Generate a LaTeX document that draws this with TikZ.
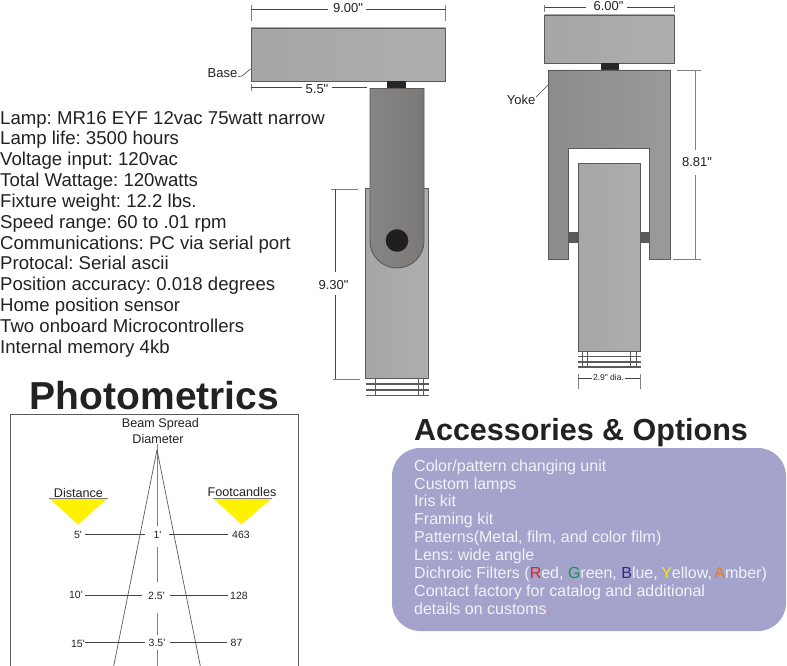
\documentclass[tikz,border=0pt]{standalone}
\usepackage{fontspec}
\setmainfont{Liberation Sans}[Ligatures=TeXOff]
\frenchspacing
\definecolor{ink}{HTML}{222222}
\definecolor{edge}{HTML}{5A5A5A}
\definecolor{dimc}{HTML}{444444}
\definecolor{panel}{HTML}{A3A3CC}
\definecolor{panelt}{HTML}{F2F2F8}
\definecolor{bodyl}{HTML}{A6A6A6}
\definecolor{bodyr}{HTML}{AEAEAE}
\definecolor{armd}{HTML}{7C7878}
\definecolor{arml}{HTML}{868484}
\definecolor{yokel}{HTML}{8C8C8C}
\definecolor{yoker}{HTML}{9A9A9A}
\newcommand{\fsz}[1]{\fontsize{#1}{#1}\selectfont}
\tikzset{
  x=1pt,y=-1pt,
  txt/.style={inner sep=0pt,text=ink,font=\fsz{13}},
  spec/.style={inner sep=0pt,anchor=base west,text=ink,font=\fsz{18.6}},
  opt/.style={inner sep=0pt,anchor=base west,text=panelt,font=\fsz{16}},
  row/.style={inner sep=0pt,text=ink,font=\fsz{10.5}},
  head/.style={inner sep=0pt,text=ink,font=\fsz{12.6}},
  housing/.style={draw=edge,line width=0.9pt,left color=bodyl,right color=bodyr},
  dimline/.style={draw=dimc,line width=0.6pt},
  dimtick/.style={draw=gray,line width=0.8pt},
  dimlong/.style={draw=gray,line width=0.8pt},
  bar/.style={draw=edge,line width=1.1pt},
  thin/.style={draw=edge,line width=0.7pt},
  beam/.style={draw=edge,line width=0.7pt},
  axis/.style={draw=gray,line width=1pt},
  rowline/.style={draw=dimc,line width=0.7pt},
  tri/.style={fill=yellow,draw=none}
}
\begin{document}
\begin{tikzpicture}
\useasboundingbox (0,0) rectangle (787,666);
\fill[white] (0,0) rectangle (787,666);

% --- left view: lower body
\draw[housing] (365.5,188) rectangle (428.5,378);
\foreach \yy in {384,390,395.7}{\draw[bar] (365.5,\yy) -- (428.5,\yy);}
\foreach \xx in {375.7,418.3,423}{\draw[thin] (\xx,378) -- (\xx,395.7);}
% base
\draw[housing] (251,28) rectangle (445.5,81.5);
\fill[black!85] (387,81.5) rectangle (406,88.5);
% yoke
\draw[draw=edge,line width=0.9pt,left color=arml,right color=armd]
  (370,88.5) -- (424,88.5) -- (424,241) arc[start angle=0,end angle=180,radius=27] -- cycle;
\fill[black!88] (397,240.5) circle[radius=11.3];

% left view dimensions
\draw[dimtick] (251,5) -- (251,21);
\draw[dimtick] (445.5,5) -- (445.5,21);
\draw[dimline] (251,9.5) -- (328,9.5);
\draw[dimline] (366,9.5) -- (445.5,9.5);
\node[txt] (w9) at (348,8) {9.00"};
\draw[dimtick] (251,84) -- (251,91);
\draw[dimline] (251,87) -- (302,87);
\draw[dimline] (332,87) -- (367,87);
\node[txt] (d55) at (317,89) {5.5"};
\node[txt] (baselbl) at (222.5,73) {Base};
\draw[dimline] (238,76.7) -- (242,76) -- (250.5,69);
\draw[dimtick] (331,189) -- (358,189);
\draw[dimtick] (333,379) -- (360,379);
\draw[dimline] (335,189) -- (335,272);
\draw[dimline] (335,295) -- (335,379);
\node[txt] (h93) at (333.5,285) {9.30"};

% --- right view
\draw[housing] (544.5,15) rectangle (674,63);
\fill[black!85] (600.5,63) rectangle (619,70);
\draw[draw=edge,line width=0.9pt,left color=yokel,right color=yoker]
  (548,70) -- (670,70) -- (670,259) -- (649.5,259) -- (649.5,148) -- (568.5,148) -- (568.5,259) -- (548,259) -- cycle;
\fill[black!65] (568.5,231.7) rectangle (578,243.3);
\fill[black!65] (640.5,231.7) rectangle (649.5,243.3);
\draw[housing] (578,163) rectangle (640.5,351.5);
\foreach \yy in {356.5,362,367}{\draw[bar] (578,\yy) -- (640.5,\yy);}
\foreach \xx in {582.7,587.3,630.7,636}{\draw[thin] (\xx,351.5) -- (\xx,367);}
\draw[dimtick] (544.5,5) -- (544.5,12);
\draw[dimtick] (674,5) -- (674,12);
\draw[dimline] (544.5,7.5) -- (586,7.5);
\draw[dimline] (627,7.5) -- (674,7.5);
\node[txt] (w6) at (608.5,5.8) {6.00"};
\draw[dimtick] (677,70) -- (701,70);
\draw[dimtick] (673,259) -- (701,259);
\draw[dimlong] (695,70) -- (695,150);
\draw[dimlong] (695,175) -- (695,259);
\node[txt] (h88) at (697,162) {8.81"};
\node[txt] (yokelbl) at (521,100) {Yoke};
\draw[dimline] (536,97) -- (548,85);
\draw[dimtick] (578,374) -- (578,389);
\draw[dimtick] (640,374) -- (640,389);
\draw[dimline] (578,378) -- (592,378);
\draw[dimline] (625,378) -- (640,378);
\node[txt,font=\fsz{8.5}] (d29) at (608.5,377.5) {2.9" dia.};

% --- specification list
\node[spec] (s1) at (0,124.7) {Lamp: MR16 EYF 12vac 75watt narrow};
\node[spec] (s2) at (0,144.7) {Lamp life: 3500 hours};
\node[spec] (s3) at (0,165.2) {Voltage input: 120vac};
\node[spec] (s4) at (0,186.2) {Total Wattage: 120watts};
\node[spec] (s5) at (0,207.2) {Fixture weight: 12.2 lbs.};
\node[spec] (s6) at (0,228.2) {Speed range: 60 to .01 rpm};
\node[spec] (s7) at (0,249.2) {Communications: PC via serial port};
\node[spec] (s8) at (0,269.2) {Protocal: Serial ascii};
\node[spec] (s9) at (0,290.2) {Position accuracy: 0.018 degrees};
\node[spec] (s10) at (0,311.2) {Home position sensor};
\node[spec] (s11) at (0,332.2) {Two onboard Microcontrollers};
\node[spec] (s12) at (0,353.2) {Internal memory 4kb};

% --- photometrics
\node[inner sep=0pt,text=ink,font=\bfseries\fsz{39}] (photo) at (154.5,396) {Photometrics};
\draw[draw=edge,line width=0.8pt] (10.5,667) -- (10.5,414.5) -- (298.5,414.5) -- (298.5,667);
\node[head] (bs1) at (160.5,424) {Beam Spread};
\node[head] (bs2) at (158,438.5) {Diameter};
\draw[axis] (157,444) -- (157,526);
\draw[axis] (157,547) -- (157,582);
\draw[axis] (157,613) -- (157,635);
\draw[axis] (157,650) -- (157,667);
\draw[beam] (157,450) -- (113.5,667);
\draw[beam] (157,450) -- (200.5,667);
\fill[tri] (49,498) -- (108,498) -- (78,524.5) -- cycle;
\fill[tri] (213,498) -- (272,498) -- (241.5,524.5) -- cycle;
\draw[gray,line width=0.7pt] (49,498) -- (108,498);
\draw[gray,line width=0.7pt] (213,498) -- (272,498);
\node[head] (dist) at (78.5,492.5) {Distance};
\node[head] (foot) at (242,492) {Footcandles};
\node[row] (a1) at (78,535) {5'};
\node[row] (b1) at (157.5,535) {1'};
\node[row] (c1) at (241,534.5) {463};
\node[row] (a2) at (76,595) {10'};
\node[row] (b2) at (156.5,595.5) {2.5'};
\node[row] (c2) at (239,595.5) {128};
\node[row] (a3) at (78,643.5) {15'};
\node[row] (b3) at (157,643) {3.5'};
\node[row] (c3) at (236.5,642.5) {87};
\draw[rowline] (85,534) -- (145,534);
\draw[rowline] (169,534) -- (228,534);
\draw[rowline] (85,595) -- (142,595);
\draw[rowline] (170,595) -- (228,595);
\draw[rowline] (85,642.7) -- (145,642.7);
\draw[rowline] (170,642.7) -- (227,642.7);

% --- accessories
\node[inner sep=0pt,text=ink,font=\bfseries\fsz{30.5}] (acc) at (581,433) {Accessories \& Options};
\fill[panel,rounded corners=28pt] (392,448) rectangle (786,631);
\node[opt] (o1) at (414,471) {Color/pattern changing unit};
\node[opt] (o2) at (414,489) {Custom lamps};
\node[opt] (o3) at (414,506.5) {Iris kit};
\node[opt] (o4) at (414,524) {Framing kit};
\node[opt] (o5) at (414,542) {Patterns(Metal, film, and color film)};
\node[opt] (o6) at (414,560) {Lens: wide angle};
\node[opt] (o7) at (414,578) {Dichroic Filters (\textcolor[HTML]{D8232A}{R}ed, \textcolor[HTML]{0B9A4B}{G}reen, \textcolor[HTML]{2E2A86}{B}lue, \kern-1pt\textcolor[HTML]{F5E71A}{Y}ellow, \kern-2pt\textcolor[HTML]{E87C24}{A}mber)};
\node[opt] (o8) at (414,596) {Contact factory for catalog and additional};
\node[opt] (o9) at (414,614) {details on customs\textcolor[HTML]{E87C24}{.}};
\end{tikzpicture}
\end{document}
